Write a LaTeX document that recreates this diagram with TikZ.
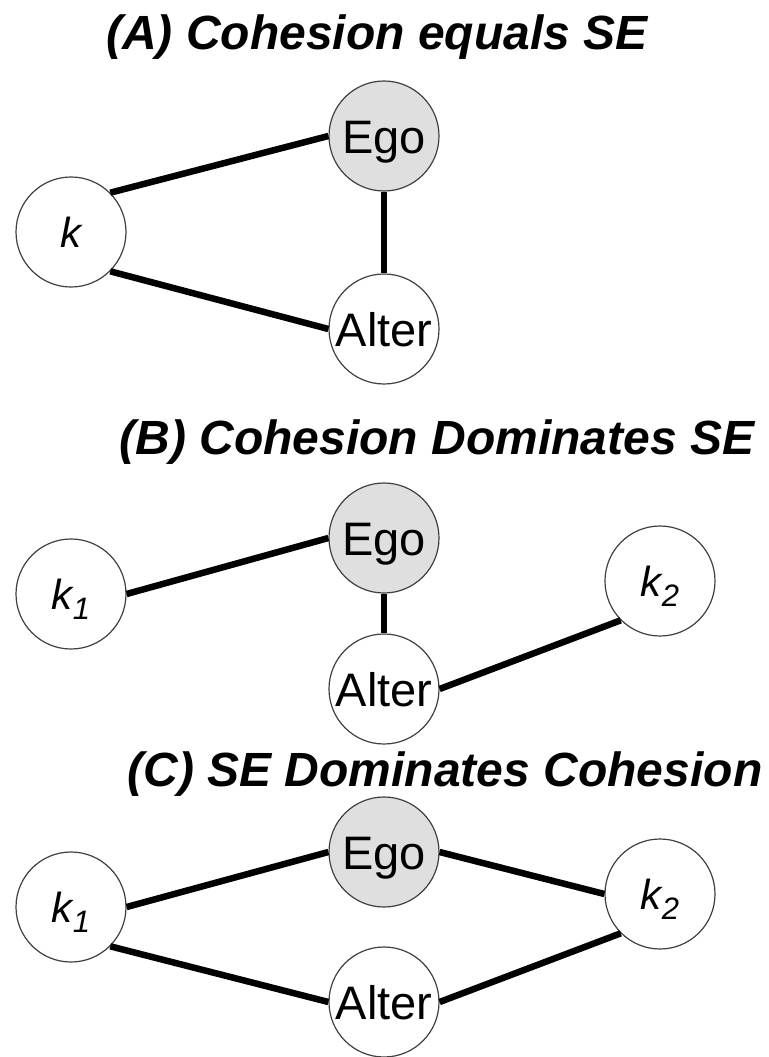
\documentclass[tikz,border=0pt]{standalone}
\usepackage{fontspec}
\setmainfont{Liberation Sans}
\begin{document}
\begin{tikzpicture}[x=1pt,y=-1pt,
  person/.style={circle,draw=black!75,line width=1.2pt,fill=white,minimum size=110pt,inner sep=0pt,
    font=\fontsize{47}{47}\selectfont,text height=34pt,text depth=0pt},
  egonode/.style={person,fill=gray!25},
  knode/.style={person,font=\fontsize{42}{42}\selectfont\itshape,text height=30pt},
  tie/.style={line width=6.5pt,black},
  paneltitle/.style={anchor=base,inner sep=0pt,font=\fontsize{48}{48}\selectfont\bfseries\itshape}]
\useasboundingbox (0,0) rectangle (768,1057);
\newcommand{\ksub}[1]{k\raisebox{-10pt}{\fontsize{31}{31}\selectfont #1}}
% Panel A
\node[paneltitle] (tA) at (377,49) {(A) Cohesion equals SE};
\node[egonode] (egoA) at (384,136) {Ego};
\node[knode] (kA) at (71,232) {k};
\node[person] (altA) at (384,329) {Alter};
\draw[tie] (kA.north east) -- (egoA.west);
\draw[tie] (kA.south east) -- (altA.west);
\draw[tie] (egoA.south) -- (altA.north);
% Panel B
\node[paneltitle] (tB) at (437,454) {(B) Cohesion Dominates SE};
\node[egonode] (egoB) at (384,538) {Ego};
\node[knode] (k1B) at (71,594) {\ksub{1}};
\node[knode] (k2B) at (660,581) {\ksub{2}};
\node[person] (altB) at (384,689) {Alter};
\draw[tie] (k1B.east) -- (egoB.west);
\draw[tie] (egoB.south) -- (altB.north);
\draw[tie] (altB.east) -- (k2B.south west);
% Panel C
\node[paneltitle] (tC) at (445,786) {(C) SE Dominates Cohesion};
\node[egonode] (egoC) at (384,852) {Ego};
\node[knode] (k1C) at (71,907) {\ksub{1}};
\node[knode] (k2C) at (660,894) {\ksub{2}};
\node[person] (altC) at (384,1002) {Alter};
\draw[tie] (k1C.east) -- (egoC.west);
\draw[tie] (egoC.east) -- (k2C.west);
\draw[tie] (k1C.south east) -- (altC.west);
\draw[tie] (altC.east) -- (k2C.south west);
\end{tikzpicture}
\end{document}
